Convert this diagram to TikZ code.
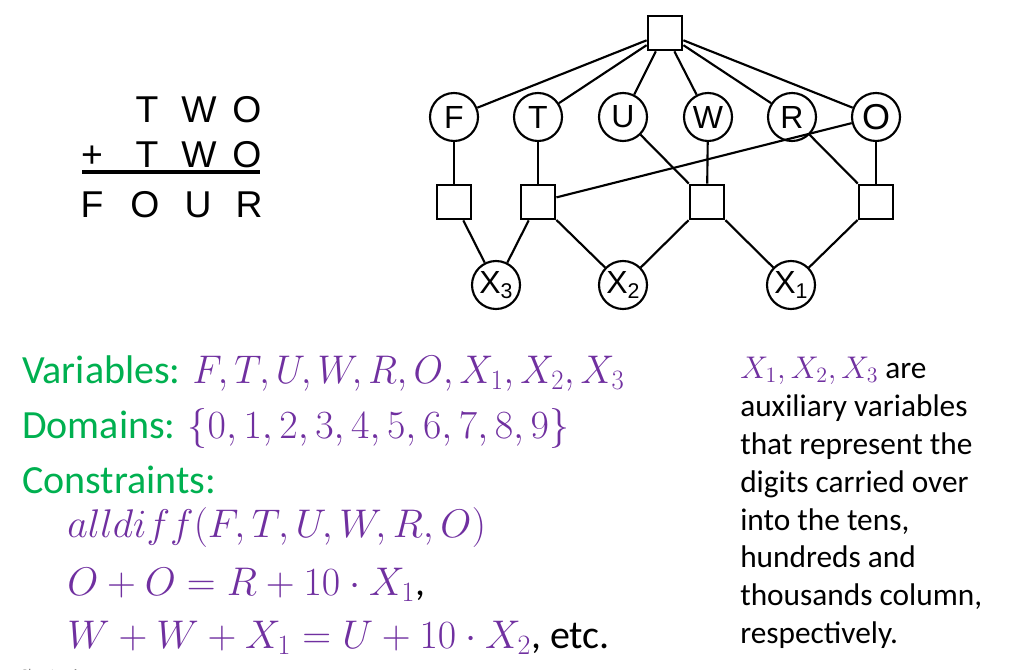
\RequirePackage{fix-cm}
\documentclass[tikz,border=0pt]{standalone}
\usepackage{fontspec}
\setmainfont{Carlito}
\newfontfamily\arial{Liberation Sans}
\definecolor{ogreen}{HTML}{00B050}
\definecolor{opurple}{HTML}{7030A0}
\tikzset{
  var/.style={circle,draw,line width=1.6pt,minimum size=36pt,inner sep=0pt,font=\arial\fontsize{24}{24}\selectfont},
  con/.style={rectangle,draw,line width=1.6pt,minimum size=26pt,inner sep=0pt},
  edge/.style={line width=1.6pt},
  tw/.style={font=\arial\fontsize{28}{28}\selectfont,anchor=base,inner sep=0pt},
  bigtxt/.style={anchor=base west,inner sep=0pt,font=\fontsize{30}{36}\selectfont},
  sidetxt/.style={anchor=base west,inner sep=0pt,font=\fontsize{23.5}{28}\selectfont}
}
\newcommand{\subn}[1]{\raisebox{-4pt}{\fontsize{16}{16}\selectfont #1}}
\begin{document}
\begin{tikzpicture}[x=0.75pt,y=-0.75pt]
\useasboundingbox (0,0) rectangle (1024,670);
% cryptarithm
\node[tw] (a1) at (147,123) {T};
\node[tw] (a2) at (199,123) {W};
\node[tw] (a3) at (247,123) {O};
\node[tw] (b0) at (92,168) {+};
\node[tw] (b1) at (147,168) {T};
\node[tw] (b2) at (199,168) {W};
\node[tw] (b3) at (247,168) {O};
\node[tw] (c0) at (92,218) {F};
\node[tw] (c1) at (145,218) {O};
\node[tw] (c2) at (198,218) {U};
\node[tw] (c3) at (249,218) {R};
\draw[line width=3pt] (82,172) -- (260,172);
% graph
\node[con] (top) at (665,33) {};
\node[var] (F) at (454,117) {F};
\node[var] (T) at (538,117) {T};
\node[var] (U) at (623,117) {U};
\node[var] (W) at (708,117) {W};
\node[var] (R) at (792,117) {R};
\node[var,font=\arial\fontsize{27}{27}\selectfont] (O) at (876,117) {O};
\node[con] (s1) at (454,202) {};
\node[con] (s2) at (538,202) {};
\node[con] (s3) at (707,202) {};
\node[con] (s4) at (876,202) {};
\node[var] (X3) at (496,285) {X\subn{3}};
\node[var] (X2) at (623,285) {X\subn{2}};
\node[var] (X1) at (791,285) {X\subn{1}};
\foreach \v in {F,T,U,W,R,O} \draw[edge] (top) -- (\v);
\draw[edge] (F) -- (s1);
\draw[edge] (T) -- (s2);
\draw[edge] (W) -- (s3);
\draw[edge] (U) -- (s3);
\draw[edge] (O) -- (s4);
\draw[edge] (R) -- (s4);
\draw[edge] (O) -- (s2);
\draw[edge] (s1) -- (X3);
\draw[edge] (s2) -- (X3);
\draw[edge] (s2) -- (X2);
\draw[edge] (s3) -- (X2);
\draw[edge] (s3) -- (X1);
\draw[edge] (s4) -- (X1);
% left text
\node[bigtxt] (l1) at (22,383) {\textcolor{ogreen}{Variables:} \textcolor{opurple}{\scalebox{0.95}[1]{$F,T,U,W,R,O,X_1,X_2,X_3$}}};
\node[bigtxt] (l2) at (22,438) {\textcolor{ogreen}{Domains:} \textcolor{opurple}{$\{0,1,2,3,4,5,6,7,8,9\}$}};
\node[bigtxt] (l3) at (22,493) {\textcolor{ogreen}{Constraints:}};
\node[bigtxt] (l4) at (67,537) {\textcolor{opurple}{$alldiff(F,T,U,W,R,O)$}};
\node[bigtxt] (l5) at (67,595) {\textcolor{opurple}{$O+O=R+10\cdot X_1$},};
\node[bigtxt] (l6) at (67,648) {\textcolor{opurple}{$W+W+X_1=U+10\cdot X_2$}, etc.};
% right text
\node[sidetxt] (r1) at (740,378) {\textcolor{opurple}{$X_1,X_2,X_3$} are};
\node[sidetxt] (r2) at (740,416) {auxiliary variables};
\node[sidetxt] (r3) at (740,454) {that represent the};
\node[sidetxt] (r4) at (740,492) {digits carried over};
\node[sidetxt] (r5) at (740,530) {into the tens,};
\node[sidetxt] (r6) at (740,567) {hundreds and};
\node[sidetxt] (r7) at (740,605) {thousands column,};
\node[sidetxt] (r8) at (740,643) {respectively.};
% footer
\node[anchor=base west,inner sep=0pt,text=gray,font=\fontsize{11}{11}\selectfont] (foot) at (20,679) {Chapter 6};
\end{tikzpicture}
\end{document}
